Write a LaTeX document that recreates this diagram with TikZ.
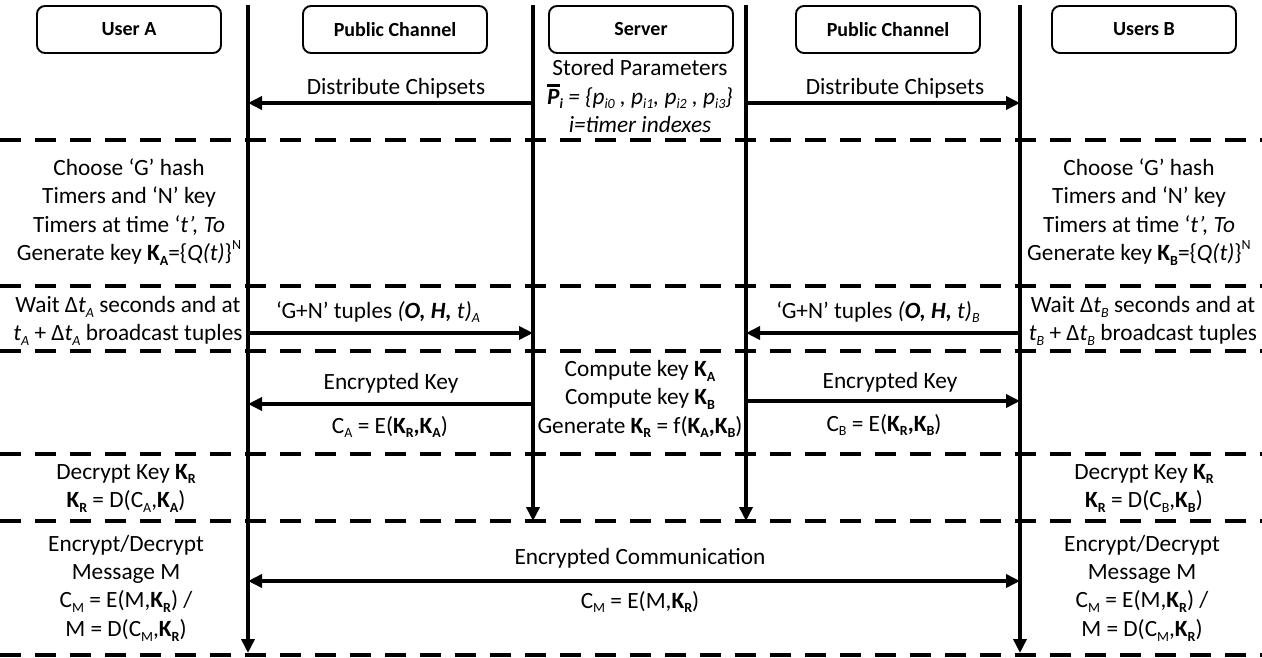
\documentclass[tikz,border=0pt]{standalone}
\usepackage{fontspec}
\setmainfont{Carlito}
\usetikzlibrary{arrows.meta}
% small lowered / raised text that keeps the current shape and series
\newcommand\dn[1]{\raisebox{-0.2em}{\fontsize{14}{14}\selectfont #1}}
\newcommand\up[1]{\raisebox{0.48em}{\fontsize{14}{14}\selectfont #1}}
% thick bar over a glyph
\newcommand\obar[1]{\setbox0\hbox{#1}\rlap{\raisebox{\dimexpr\ht0+2pt\relax}{\rule{\wd0}{2.6pt}}}\box0}
\begin{document}
\begin{tikzpicture}[x=1pt,y=-1pt,
  every node/.style={font=\fontsize{23.3}{28.4}\selectfont, align=center, inner sep=0pt},
  head/.style={draw, line width=1.9pt, rounded corners=8pt, minimum width=184pt,
    minimum height=47pt, font=\fontsize{20}{22}\selectfont\bfseries},
  life/.style={line width=3.8pt, line cap=butt},
  sep/.style={line width=4.5pt, dash pattern=on 21pt off 14pt},
  tip/.style={-{Triangle[length=14pt,width=13pt]}},
  msg/.style={line width=3.6pt, tip},
]
\useasboundingbox (0,0) rectangle (1262,658);

% phase separators
\foreach \y in {140,286,351,454,521,655}
  \draw[sep] (0,\y) -- (1262,\y);

% participants
\node[head] (ua)  at (129,29.5) {User A};
\node[head] (pc1) at (395,29.5) {Public Channel};
\node[head] (srv) at (641,29.5) {Server};
\node[head] (pc2) at (888,29.5) {Public Channel};
\node[head] (ub)  at (1144,29.5) {Users B};

% lifelines
\coordinate (LaT) at (248,5);   \coordinate (LaB) at (248,653);
\coordinate (SaT) at (533,5);   \coordinate (SaB) at (533,521);
\coordinate (SbT) at (746,5);   \coordinate (SbB) at (746,521);
\coordinate (LbT) at (1020,5);  \coordinate (LbB) at (1020,653);
\draw[life,tip] (LaT) -- (LaB);
\draw[life,tip] (SaT) -- (SaB);
\draw[life,tip] (SbT) -- (SbB);
\draw[life,tip] (LbT) -- (LbB);

% message end points
\coordinate (d1s) at (533,103);  \coordinate (d1e) at (248,103);
\coordinate (d2s) at (746,103);  \coordinate (d2e) at (1020,103);
\coordinate (t1s) at (248,333);  \coordinate (t1e) at (533,333);
\coordinate (t2s) at (1020,333); \coordinate (t2e) at (746,333);
\coordinate (k1s) at (533,404);  \coordinate (k1e) at (248,404);
\coordinate (k2s) at (746,401);  \coordinate (k2e) at (1020,401);
\coordinate (c1)  at (248,581);  \coordinate (c2)  at (1020,581);

% messages
\draw[msg] (d1s) -- (d1e);
\draw[msg] (d2s) -- (d2e);
\draw[msg] (t1s) -- (t1e);
\draw[msg] (t2s) -- (t2e);
\draw[msg] (k1s) -- (k1e);
\draw[msg] (k2s) -- (k2e);
\draw[line width=3.6pt, {Triangle[length=14pt,width=13pt]}-{Triangle[length=14pt,width=13pt]}] (c1) -- (c2);

% message labels
\node (ld1) at (396,88) {Distribute Chipsets};
\node (ld2) at (895,88) {Distribute Chipsets};
\node (lt1) at (378,312) {‘G+N’ tuples \textit{(\textbf{O, H,} t)\dn{A}}};
\node (lt2) at (878,312) {‘G+N’ tuples \textit{(\textbf{O, H,} t)\dn{B}}};
\node (lk1) at (391,383) {Encrypted Key};
\node (ck1) at (390,427) {C\dn{A} = E(\textbf{K\dn{R},K\dn{A}})};
\node (lk2) at (890,382) {Encrypted Key};
\node (ck2) at (884,425) {C\dn{B} = E(\textbf{K\dn{R},K\dn{B}})};
\node (lc)  at (640,558) {Encrypted Communication};
\node (cc)  at (640,602) {C\dn{M} = E(M,\textbf{K\dn{R}})};

% server activities
\node (sp) at (640,96) {Stored Parameters\\
  \textit{\textbf{\obar{P}\dn{i}} = \{p\dn{i0} , p\dn{i1}, p\dn{i2} , p\dn{i3}\}}\\
  \textit{i=timer indexes}};
\node (sk) at (640,399) {Compute key \textbf{K\dn{A}}\\Compute key \textbf{K\dn{B}}\\
  Generate \textbf{K\dn{R}} = f(\textbf{K\dn{A},K\dn{B}})};

% user A activities
\node (a1) at (129,212) {Choose ‘G’ hash\\Timers and ‘N’ key\\Timers at time ‘\textit{t’, To}\\
  Generate key \textbf{K\dn{A}}=\{\textit{Q(t)}\}\up{N}};
\node (a2) at (128,321) {Wait Δ\textit{t\dn{A}} seconds and at\\\textit{t\dn{A}} + Δ\textit{t\dn{A}} broadcast tuples};
\node (a3) at (126,488) {Decrypt Key \textbf{K\dn{R}}\\\textbf{K\dn{R}} = D(C\dn{A},\textbf{K\dn{A}})};
\node (a4) at (126,588) {Encrypt/Decrypt\\Message M\\C\dn{M} = E(M,\textbf{K\dn{R}}) /\\
  M = D(C\dn{M},\textbf{K\dn{R}})};

% user B activities
\node (b1) at (1139,212) {Choose ‘G’ hash\\Timers and ‘N’ key\\Timers at time ‘\textit{t’, To}\\
  Generate key \textbf{K\dn{B}}=\{\textit{Q(t)}\}\up{N}};
\node (b2) at (1143,321) {Wait Δ\textit{t\dn{B}} seconds and at\\\textit{t\dn{B}} + Δ\textit{t\dn{B}} broadcast tuples};
\node (b3) at (1144,488) {Decrypt Key \textbf{K\dn{R}}\\\textbf{K\dn{R}} = D(C\dn{B},\textbf{K\dn{B}})};
\node (b4) at (1142,588) {Encrypt/Decrypt\\Message M\\C\dn{M} = E(M,\textbf{K\dn{R}}) /\\
  M = D(C\dn{M},\textbf{K\dn{R}})};
\end{tikzpicture}
\end{document}
